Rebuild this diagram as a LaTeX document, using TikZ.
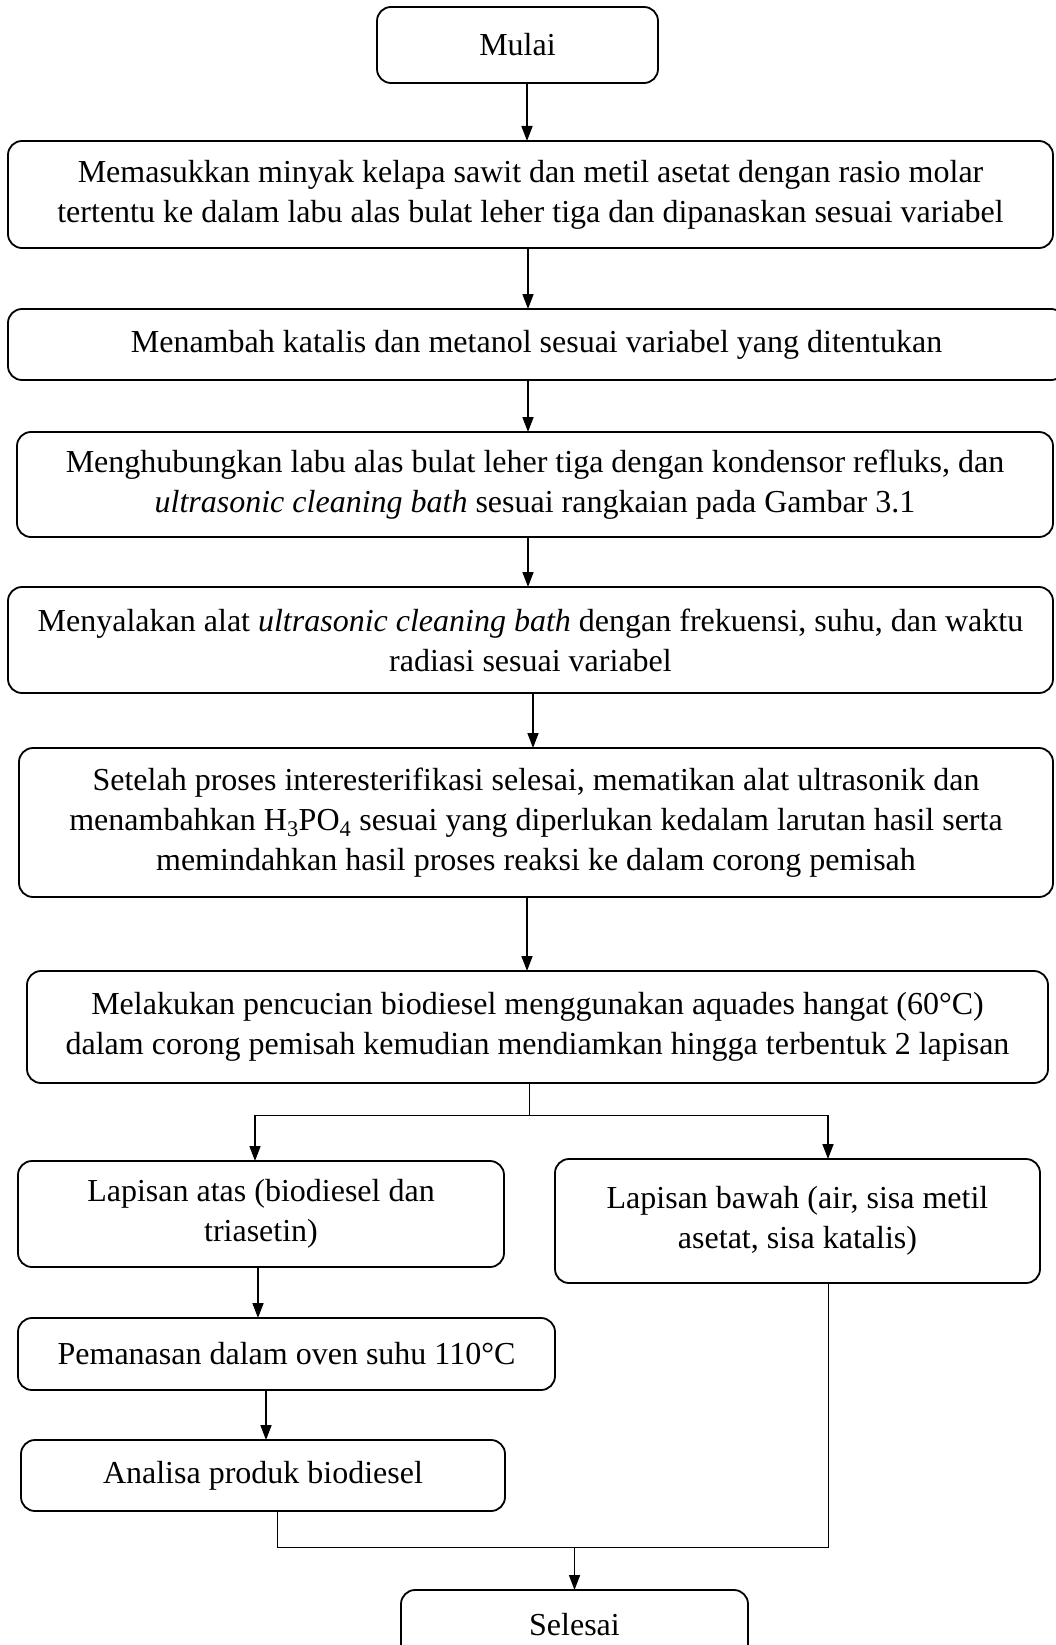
\documentclass[tikz,border=0pt]{standalone}
\usepackage{fontspec}
\setmainfont{Liberation Serif}
\usetikzlibrary{arrows.meta,positioning}

\begin{document}
\begin{tikzpicture}[
    font=\fontsize{32pt}{40pt}\selectfont,
    box/.style={rectangle, draw, line width=1.8pt, rounded corners=14pt, inner sep=0pt, outer sep=0pt, align=center},
    arrow/.style={-{Triangle[length=15pt,width=11pt]}, line width=1.6pt},
    garis/.style={line width=0.9pt}
]
    \path[use as bounding box, fill=white] (0pt,0pt) rectangle (1055pt,-1645pt);

    % Mulai
    \node[box, minimum width=281pt, minimum height=76pt] (mulai) at (517.5pt,-45pt) {Mulai};

    % Langkah 1
    \node[box, minimum width=1045pt, minimum height=107pt, below=58pt of mulai, xshift=13pt] (masuk) {Memasukkan minyak kelapa sawit dan metil asetat dengan rasio molar\\tertentu ke dalam labu alas bulat leher tiga dan dipanaskan sesuai variabel};

    % Langkah 2
    \node[box, minimum width=1057pt, minimum height=71pt, below=61pt of masuk, xshift=6pt] (tambah) {Menambah katalis dan metanol sesuai variabel yang ditentukan};

    % Langkah 3
    \node[box, minimum width=1036pt, minimum height=105pt, below=52pt of tambah, xshift=-1.5pt] (hubung) {Menghubungkan labu alas bulat leher tiga dengan kondensor refluks, dan\\\textit{ultrasonic cleaning bath} sesuai rangkaian pada Gambar 3.1};

    % Langkah 4
    \node[box, minimum width=1045pt, minimum height=106pt, below=50pt of hubung, xshift=-4.5pt] (nyala) {Menyalakan alat \textit{ultrasonic cleaning bath} dengan frekuensi, suhu, dan waktu\\radiasi sesuai variabel};

    % Langkah 5
    \node[box, minimum width=1034pt, minimum height=149pt, below=55pt of nyala, xshift=5.5pt] (setelah) {Setelah proses interesterifikasi selesai, mematikan alat ultrasonik dan\\menambahkan H\textsubscript{3}PO\textsubscript{4} sesuai yang diperlukan kedalam larutan hasil serta\\memindahkan hasil proses reaksi ke dalam corong pemisah};

    % Langkah 6
    \node[box, minimum width=1021pt, minimum height=112pt, below=74pt of setelah, xshift=1.5pt] (cuci) {Melakukan pencucian biodiesel menggunakan aquades hangat (60°C)\\dalam corong pemisah kemudian mendiamkan hingga terbentuk 2 lapisan};

    % Dua lapisan
    \node[box, minimum width=486pt, minimum height=106pt, below=78pt of cuci, xshift=-276.5pt] (atas) {Lapisan atas (biodiesel dan\\triasetin)};
    \node[box, minimum width=485pt, minimum height=124pt, below=76pt of cuci, xshift=260pt] (bawah) {Lapisan bawah (air, sisa metil\\asetat, sisa katalis)};

    % Lapisan atas diproses
    \node[box, minimum width=537pt, minimum height=72pt, below=51pt of atas, xshift=25.5pt] (panas) {Pemanasan dalam oven suhu 110°C};
    \node[box, minimum width=484pt, minimum height=71pt, below=50pt of panas, xshift=-23.5pt] (analisa) {Analisa produk biodiesel};

    % Selesai
    \node[box, minimum width=347pt, minimum height=70pt, below=79pt of analisa, xshift=311.5pt] (selesai) {Selesai};

    % Edges
    \draw[arrow] ([xshift=9.5pt]mulai.south) -- ([xshift=-3.5pt]masuk.north);
    \draw[arrow] ([xshift=-2.5pt]masuk.south) -- ([xshift=-8.5pt]tambah.north);
    \draw[arrow] ([xshift=-8.5pt]tambah.south) -- ([xshift=-7pt]hubung.north);
    \draw[arrow] ([xshift=-7pt]hubung.south) -- ([xshift=-2.5pt]nyala.north);
    \draw[arrow] ([xshift=2.5pt]nyala.south) -- ([xshift=-3pt]setelah.north);
    \draw[arrow] ([xshift=-9pt]setelah.south) -- ([xshift=-10.5pt]cuci.north);

    % Cabang
    \coordinate[above=46pt of atas.north, xshift=-6pt] (cabkiri);
    \coordinate[above=44pt of bawah.north, xshift=30.5pt] (cabkanan);
    \draw[garis] ([xshift=-8.5pt]cuci.south) |- (cabkanan);
    \draw[garis] (cabkiri) -- (cabkiri -| cabkanan);
    \draw[arrow] (cabkiri) -- ([xshift=-6pt]atas.north);
    \draw[arrow] (cabkanan) -- ([xshift=30.5pt]bawah.north);

    \draw[arrow] ([xshift=-3pt]atas.south) -- ([xshift=-28.5pt]panas.north);
    \draw[arrow] ([xshift=-20.5pt]panas.south) -- ([xshift=3pt]analisa.north);

    % Gabung
    \coordinate[below=36pt of analisa.south, xshift=14pt] (gabkiri);
    \draw[garis] ([xshift=14pt]analisa.south) -- (gabkiri);
    \draw[garis] ([xshift=30.5pt]bawah.south) |- (gabkiri);
    \draw[arrow] (gabkiri -| selesai.north) -- (selesai.north);
\end{tikzpicture}
\end{document}
